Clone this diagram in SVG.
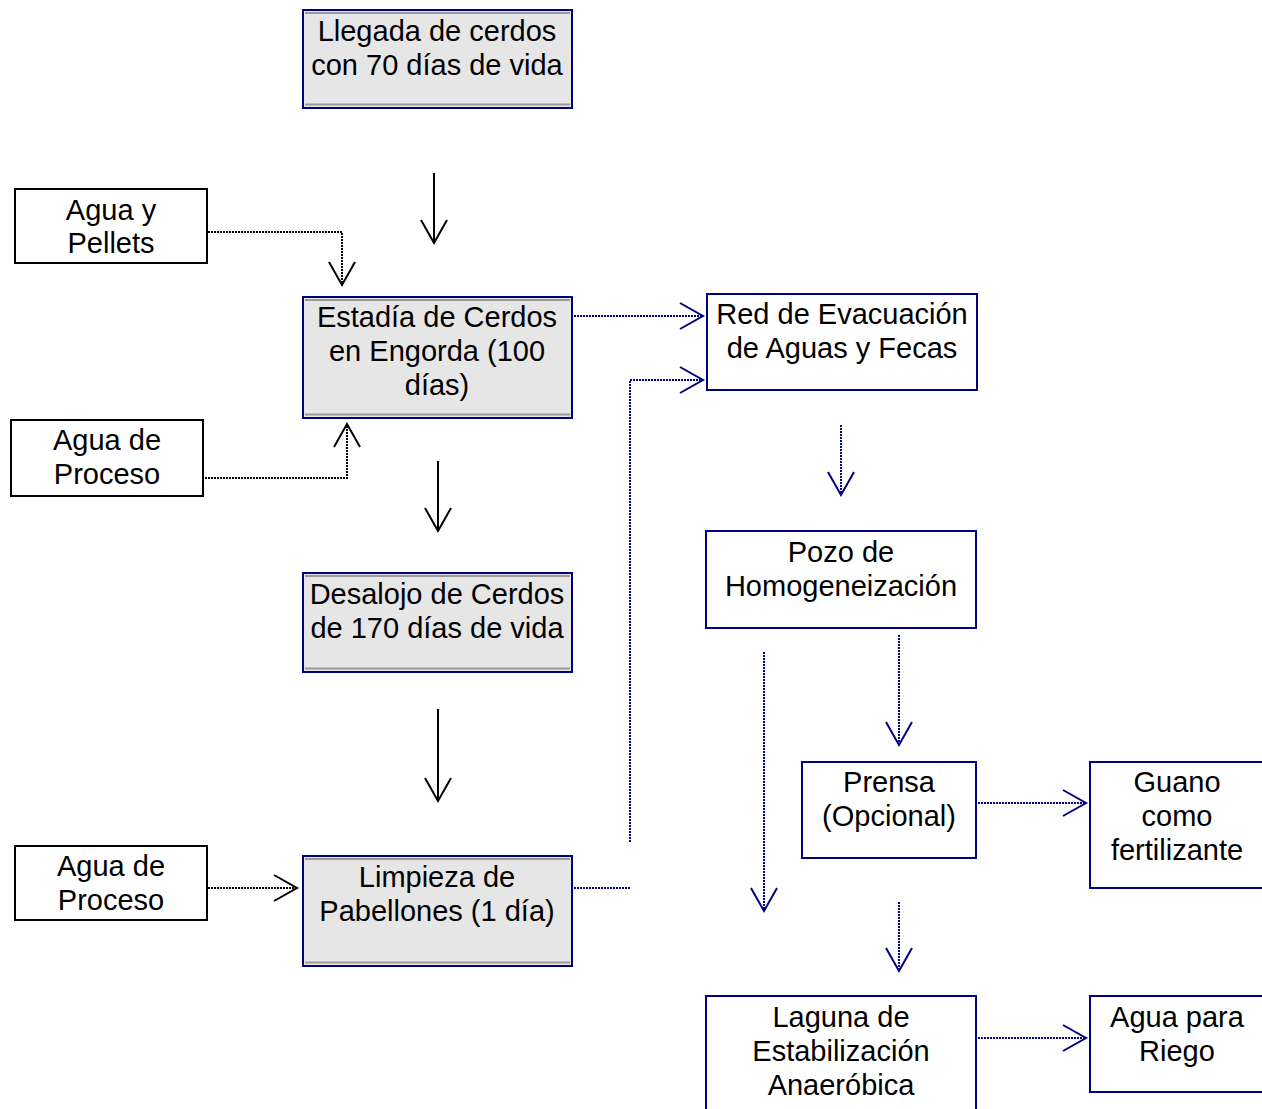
<svg xmlns="http://www.w3.org/2000/svg" width="1262" height="1109" viewBox="0 0 1262 1109">
<defs>
<style>
.t{font-family:"Liberation Sans",Arial,sans-serif;font-size:29px;fill:#000;text-anchor:middle}
.g{fill:#e6e6e6;stroke:#000080;stroke-width:2}
.gs{stroke:#9a9a9a;stroke-width:2;fill:none}
.w{fill:#fff;stroke:#000;stroke-width:2}
.b{fill:#fff;stroke:#000080;stroke-width:2}
.sk{fill:none;stroke:#000;stroke-width:2}
.dk{fill:none;stroke:#000;stroke-width:2;stroke-dasharray:2 1}
.dn{fill:none;stroke:#000080;stroke-width:2;stroke-dasharray:2 1}
</style>
<marker id="ak" markerUnits="userSpaceOnUse" viewBox="-26 -16 30 32" markerWidth="30" markerHeight="32" refX="0" refY="0" orient="auto">
<path d="M-23 -13 L0 0 L-23 13" fill="none" stroke="#000" stroke-width="2"/>
</marker>
<marker id="an" markerUnits="userSpaceOnUse" viewBox="-26 -16 30 32" markerWidth="30" markerHeight="32" refX="0" refY="0" orient="auto">
<path d="M-23 -13 L0 0 L-23 13" fill="none" stroke="#000080" stroke-width="2"/>
</marker>
</defs>
<rect width="1262" height="1109" fill="#fff"/>

<g id="connectors">
<path class="sk" d="M434 173 V243" marker-end="url(#ak)"/>
<path class="sk" d="M438 461 V531" marker-end="url(#ak)"/>
<path class="sk" d="M438 709 V801" marker-end="url(#ak)"/>
<path class="dk" d="M208 232 H342 V285" marker-end="url(#ak)"/>
<path class="dk" d="M205 478 H347 V424" marker-end="url(#ak)"/>
<path class="dk" d="M208 888 H297" marker-end="url(#ak)"/>
<path class="dn" d="M574 316 H703" marker-end="url(#an)"/>
<path class="dn" d="M574 888 H630"/>
<path class="dn" d="M630 842 V380 H703" marker-end="url(#an)"/>
<path class="dn" d="M841 425 V495" marker-end="url(#an)"/>
<path class="dn" d="M899 635 V745" marker-end="url(#an)"/>
<path class="dn" d="M764 652 V911" marker-end="url(#an)"/>
<path class="dn" d="M978 803 H1086" marker-end="url(#an)"/>
<path class="dn" d="M899 902 V971" marker-end="url(#an)"/>
<path class="dn" d="M978 1038 H1086" marker-end="url(#an)"/>
</g>

<g id="llegada">
<rect class="g" x="303" y="10" width="269" height="98"/>
<path class="gs" d="M305 13 H570 M305 104.5 H570"/>
<text class="t" x="437" y="41">Llegada de cerdos</text>
<text class="t" x="437" y="75">con 70 días de vida</text>
</g>

<g id="agua-pellets">
<rect class="w" x="15" y="189" width="192" height="74"/>
<text class="t" x="111" y="220">Agua y</text>
<text class="t" x="111" y="253">Pellets</text>
</g>

<g id="estadia">
<rect class="g" x="303" y="297" width="269" height="121"/>
<path class="gs" d="M305 300 H570 M305 414.5 H570"/>
<text class="t" x="437" y="327">Estadía de Cerdos</text>
<text class="t" x="437" y="361">en Engorda (100</text>
<text class="t" x="437" y="395">días)</text>
</g>

<g id="agua-proceso-1">
<rect class="w" x="11" y="420" width="192" height="76"/>
<text class="t" x="107" y="450">Agua de</text>
<text class="t" x="107" y="484">Proceso</text>
</g>

<g id="desalojo">
<rect class="g" x="303" y="573" width="269" height="99"/>
<path class="gs" d="M305 576 H570 M305 668.5 H570"/>
<text class="t" x="437" y="604">Desalojo de Cerdos</text>
<text class="t" x="437" y="638">de 170 días de vida</text>
</g>

<g id="agua-proceso-2">
<rect class="w" x="15" y="846" width="192" height="74"/>
<text class="t" x="111" y="876">Agua de</text>
<text class="t" x="111" y="910">Proceso</text>
</g>

<g id="limpieza">
<rect class="g" x="303" y="856" width="269" height="110"/>
<path class="gs" d="M305 859 H570 M305 962.5 H570"/>
<text class="t" x="437" y="887">Limpieza de</text>
<text class="t" x="437" y="921">Pabellones (1 día)</text>
</g>

<g id="red-evacuacion">
<rect class="b" x="707" y="294" width="270" height="96"/>
<text class="t" x="842" y="324">Red de Evacuación</text>
<text class="t" x="842" y="358">de Aguas y Fecas</text>
</g>

<g id="pozo">
<rect class="b" x="706" y="531" width="270" height="97"/>
<text class="t" x="841" y="562">Pozo de</text>
<text class="t" x="841" y="596">Homogeneización</text>
</g>

<g id="prensa">
<rect class="b" x="802" y="762" width="174" height="96"/>
<text class="t" x="889" y="792">Prensa</text>
<text class="t" x="889" y="826">(Opcional)</text>
</g>

<g id="guano">
<rect class="b" x="1090" y="762" width="200" height="126"/>
<text class="t" x="1177" y="792">Guano</text>
<text class="t" x="1177" y="826">como</text>
<text class="t" x="1177" y="860">fertilizante</text>
</g>

<g id="laguna">
<rect class="b" x="706" y="996" width="270" height="140"/>
<text class="t" x="841" y="1027">Laguna de</text>
<text class="t" x="841" y="1061">Estabilización</text>
<text class="t" x="841" y="1095">Anaeróbica</text>
</g>

<g id="agua-riego">
<rect class="b" x="1090" y="996" width="200" height="96"/>
<text class="t" x="1177" y="1027">Agua para</text>
<text class="t" x="1177" y="1061">Riego</text>
</g>
</svg>
